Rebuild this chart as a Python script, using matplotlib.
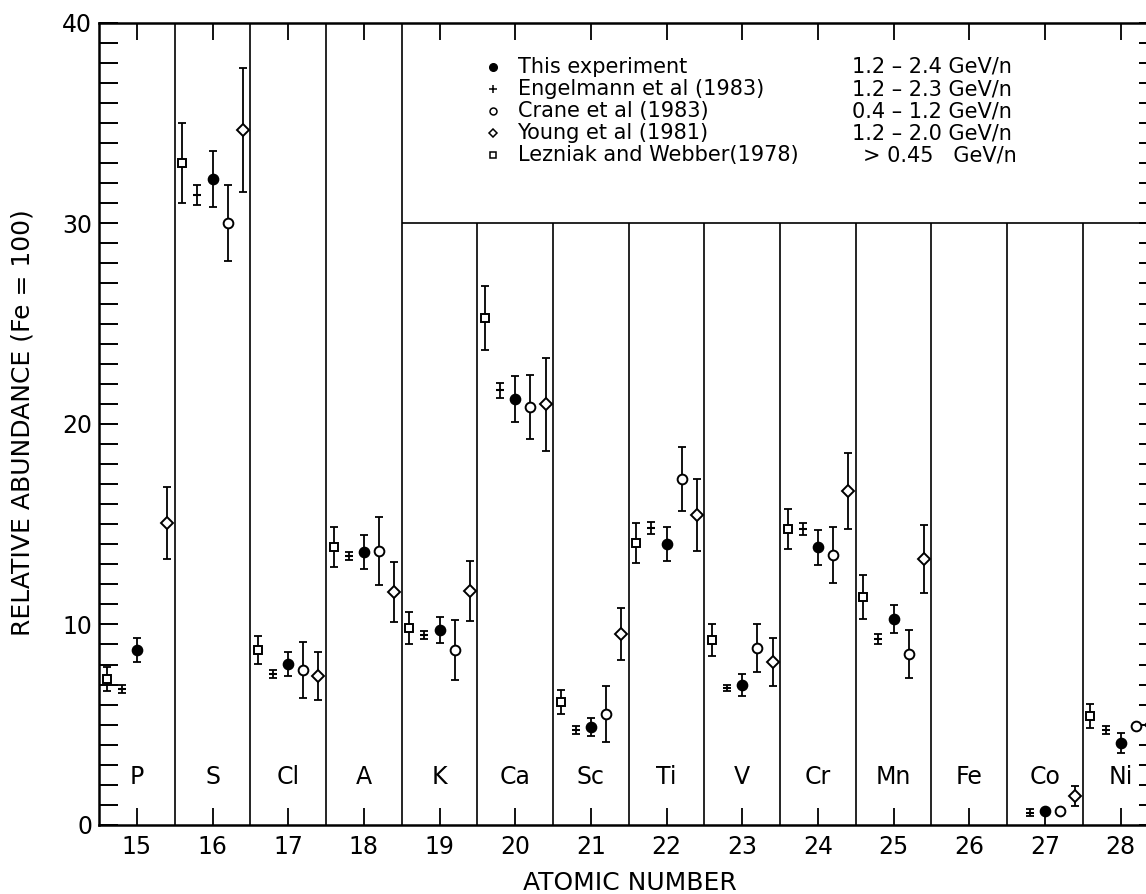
import numpy as np
import matplotlib
matplotlib.use('Agg')
import matplotlib.pyplot as plt
from matplotlib.ticker import MultipleLocator

nan = np.nan

# ---------------- data ----------------
atomic_number = [15, 16, 17, 18, 19, 20, 21, 22, 23, 24, 25, 26, 27, 28]
elements = ['P', 'S', 'Cl', 'A', 'K', 'Ca', 'Sc', 'Ti', 'V', 'Cr', 'Mn', 'Fe', 'Co', 'Ni']

# This experiment (filled circles)
this_val = [8.72, 32.2, 8.03, 13.61, 9.72, 21.24, 4.89, 14.02, 6.98, 13.84, 10.25, nan, 0.71, 4.10]
this_err = [0.6, 1.4, 0.6, 0.85, 0.65, 1.15, 0.45, 0.85, 0.57, 0.88, 0.7, nan, 0.0, 0.5]

# Engelmann et al (1983) (+)
eng_val = [6.80, 31.41, 7.53, 13.41, 9.47, 21.68, 4.74, 14.82, 6.85, 14.77, 9.26, nan, 0.61, 4.74]
eng_err = [0.2, 0.5, 0.2, 0.22, 0.2, 0.37, 0.2, 0.3, 0.15, 0.3, 0.25, nan, 0.18, 0.2]

# Crane et al (1983) (open circles)
crane_val = [nan, 30.03, 7.73, 13.66, 8.72, 20.85, 5.53, 17.25, 8.82, 13.47, 8.54, nan, 0.71, 4.94]
crane_err = [nan, 1.9, 1.4, 1.7, 1.5, 1.6, 1.4, 1.6, 1.2, 1.4, 1.2, nan, 0.0, 0.0]

# Young et al (1981) (diamonds)
young_val = [15.04, 34.65, 7.43, 11.63, 11.65, 20.97, 9.54, 15.44, 8.11, 16.65, 13.26, nan, 1.45, 5.0]
young_err = [1.8, 3.1, 1.2, 1.5, 1.5, 2.3, 1.3, 1.8, 1.2, 1.9, 1.7, nan, 0.5, 0.0]

# Lezniak and Webber (1978) (squares)
lez_val = [7.26, 33.02, 8.72, 13.84, 9.84, 25.26, 6.12, 14.04, 9.22, 14.76, 11.35, nan, nan, 5.45]
lez_err = [0.6, 2.0, 0.7, 1.0, 0.8, 1.6, 0.6, 1.0, 0.8, 1.0, 1.1, nan, nan, 0.6]

legend_names = ['This experiment', 'Engelmann et al (1983)', 'Crane et al (1983)',
                'Young et al (1981)', 'Lezniak and Webber(1978)']
legend_ranges = ['1.2 \u2013 2.4 GeV/n', '1.2 \u2013 2.3 GeV/n', '0.4 \u2013 1.2 GeV/n',
                 '1.2 \u2013 2.0 GeV/n', '> 0.45   GeV/n']

# ---------------- figure ----------------
plt.rcParams['font.family'] = ['DejaVu Sans']
fig = plt.figure(figsize=(11.46, 8.94), dpi=100)
ax = fig.add_axes([0.0864, 0.0772, 0.9245, 0.8974])
ax.set_xlim(14.5, 28.5)
ax.set_ylim(0, 40)

Z = np.array(atomic_number, dtype=float)

styles = {
    'this': dict(marker='o', markersize=7.4, markerfacecolor='k', markeredgecolor='k'),
    'eng': dict(marker='_', markersize=6, markeredgewidth=1.5, color='k'),
    'crane': dict(marker='o', markersize=7.0, markerfacecolor='white', markeredgecolor='k', markeredgewidth=1.4),
    'young': dict(marker='D', markersize=6.0, markerfacecolor='white', markeredgecolor='k', markeredgewidth=1.4),
    'lez': dict(marker='s', markersize=6.0, markerfacecolor='white', markeredgecolor='k', markeredgewidth=1.4),
}

series = [
    (lez_val, lez_err, -0.4, 'lez'),
    (eng_val, eng_err, -0.2, 'eng'),
    (this_val, this_err, 0.0, 'this'),
    (crane_val, crane_err, 0.2, 'crane'),
    (young_val, young_err, 0.4, 'young'),
]

for vals, errs, off, key in series:
    x = Z + off
    v = np.array(vals, dtype=float)
    e = np.array(errs, dtype=float)
    m = np.isfinite(v) & np.isfinite(e) & (e > 0)
    ax.errorbar(x[m], v[m], yerr=e[m], fmt='none', ecolor='k', elinewidth=1.3,
                capsize=2.7, capthick=1.3, zorder=3)
    ax.plot(x, v, linestyle='none', zorder=4, **styles[key])

# separators
bounds = Z[:-1] + 0.5
ax.vlines(bounds[bounds <= 18.5], 0, 40, color='k', lw=1.2, zorder=2)
ax.vlines(bounds[bounds > 18.5], 0, 30, color='k', lw=1.2, zorder=2)
ax.hlines(30, 18.5, 28.5, color='k', lw=1.2, zorder=2)

# element labels
for z, el in zip(atomic_number, elements):
    ax.text(z, 2.4, el, ha='center', va='center', fontsize=17)

# legend
row_y = [37.8, 36.69, 35.59, 34.5, 33.4]
legend_keys = ['this', 'eng', 'crane', 'young', 'lez']
small = {
    'this': dict(marker='o', markersize=5.5, markerfacecolor='k', markeredgecolor='k'),
    'eng': dict(marker='+', markersize=6, markeredgewidth=1.1, color='k'),
    'crane': dict(marker='o', markersize=5, markerfacecolor='white', markeredgecolor='k', markeredgewidth=1.1),
    'young': dict(marker='D', markersize=4.5, markerfacecolor='white', markeredgecolor='k', markeredgewidth=1.1),
    'lez': dict(marker='s', markersize=4.5, markerfacecolor='white', markeredgecolor='k', markeredgewidth=1.1),
}
for yv, key, name, rng in zip(row_y, legend_keys, legend_names, legend_ranges):
    ax.plot([19.71], [yv], linestyle='none', **small[key])
    ax.text(20.03, yv, name, ha='left', va='center', fontsize=15)
    ax.text(24.6 if rng.startswith('>') else 24.45, yv, rng, ha='left', va='center', fontsize=15)

# ticks
ax.set_xticks(atomic_number)
ax.tick_params(axis='x', which='both', direction='in', top=True, bottom=True,
               length=12, width=1.3, labelsize=17, pad=7)
ax.yaxis.set_major_locator(MultipleLocator(10))
ax.yaxis.set_minor_locator(MultipleLocator(1))
ax.tick_params(axis='y', which='both', direction='in', left=True, right=True,
               length=13.5, width=1.4, labelsize=17, pad=5)
for s in ax.spines.values():
    s.set_linewidth(1.8)

fig.text(630 / 1146, 1 - 883 / 894, 'ATOMIC NUMBER', ha='center', va='center', fontsize=18)
fig.text(23 / 1146, 1 - 423 / 894, 'RELATIVE ABUNDANCE (Fe = 100)', ha='center', va='center',
         rotation=90, fontsize=18)

fig.savefig('out.png', dpi=100)
